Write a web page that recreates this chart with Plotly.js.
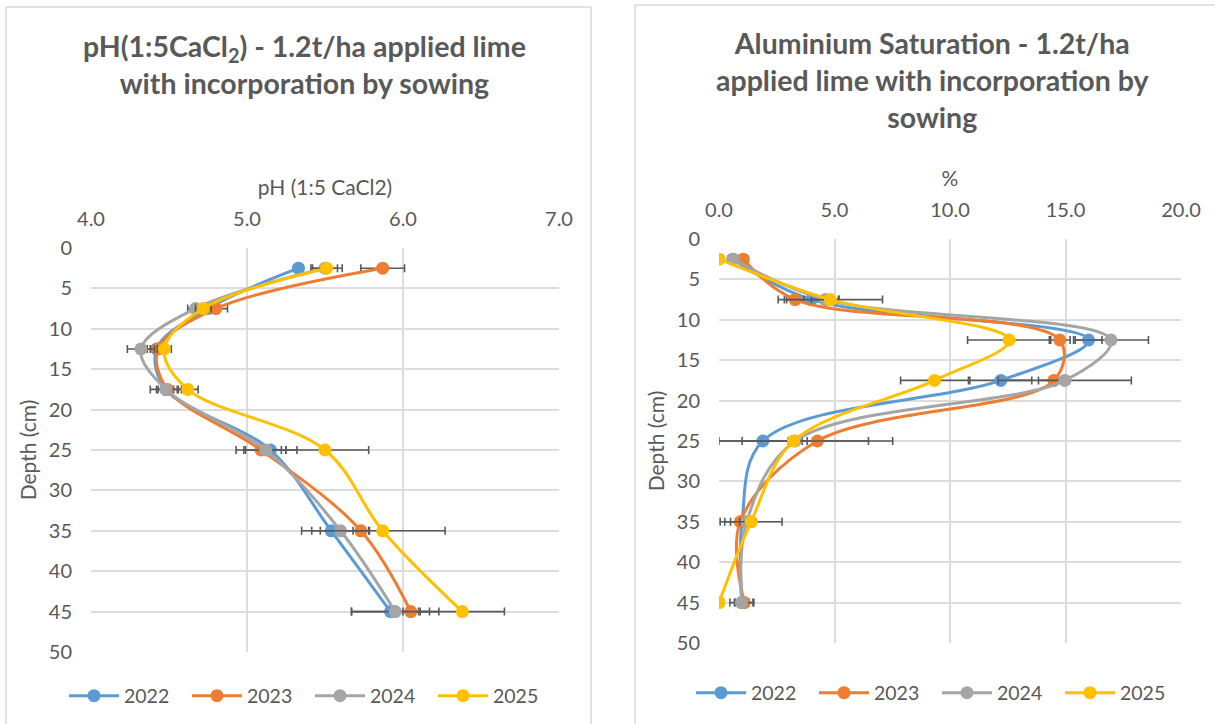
<!DOCTYPE html>
<html>
<head>
<meta charset="utf-8">
<script src="https://cdn.plot.ly/plotly-3.0.1.min.js"></script>
<style>html,body{margin:0;padding:0;background:#fff;}#chart{width:1215px;height:724px;}</style>
</head>
<body>
<div id="chart"></div>
<script>
// ---- data ----
const depths = [2.5, 7.5, 12.5, 17.5, 25, 35, 45];
const years = ['2022', '2023', '2024', '2025'];

// pH (1:5 CaCl2)
const ph2022 = [5.33, 4.75, 4.42, 4.48, 5.15, 5.54, 5.92];
const ph2023 = [5.87, 4.80, 4.43, 4.49, 5.09, 5.73, 6.05];
const ph2024 = [5.50, 4.67, 4.32, 4.48, 5.12, 5.60, 5.95];
const ph2025 = [5.51, 4.72, 4.47, 4.62, 5.50, 5.87, 6.38];
const phErr2022 = [0.03, 0.05, 0.06, 0.05, 0.17, 0.19, 0.25];
const phErr2023 = [0.14, 0.075, 0.05, 0.07, 0.16, 0.05, 0.05];
const phErr2024 = [0.08, 0.05, 0.087, 0.10, 0.13, 0.185, 0.28];
const phErr2025 = [0.10, 0.05, 0.045, 0.067, 0.28, 0.40, 0.27];

// Aluminium saturation (%)
const al2022 = [0.6, 4.0, 16.0, 12.2, 1.9, 1.0, 1.0];
const al2023 = [1.05, 3.3, 14.75, 14.5, 4.26, 0.92, 1.09];
const al2024 = [0.62, 4.6, 16.97, 14.97, 3.3, 1.2, 0.97];
const al2025 = [0.0, 4.82, 12.56, 9.33, 3.23, 1.39, 0.0];
const alErr2022 = [0.2, 1.17, 0.58, 1.34, 1.92, 0.5, 0.3];
const alErr2023 = [0.2, 0.37, 0.45, 0.67, 3.26, 0.67, 0.42];
const alErr2024 = [0.2, 0.6, 1.62, 2.88, 0.3, 0.3, 0.5];
const alErr2025 = [0.2, 2.26, 1.8, 1.47, 3.24, 1.34, 0.2];

// ---- styling ----
const colors = ['#5B9BD5', '#ED7D31', '#A5A5A5', '#FFC000'];
const FONT = 'Lato, "Open Sans", sans-serif';
const TXT = '#595959';
const GRID = '#DCDCDC';

const phSeries = [ph2022, ph2023, ph2024, ph2025];
const phErrs = [phErr2022, phErr2023, phErr2024, phErr2025];
const alSeries = [al2022, al2023, al2024, al2025];
const alErrs = [alErr2022, alErr2023, alErr2024, alErr2025];

const traces = [];
function mk(xs, errs, i, xa, ya, leg) {
  return {
    type: 'scatter', mode: 'lines+markers', name: years[i],
    x: xs, y: depths, xaxis: xa, yaxis: ya, legend: leg,
    line: {color: colors[i], width: 3, shape: 'spline', smoothing: 1},
    marker: {color: colors[i], size: 13},
    error_x: {type: 'data', array: errs, visible: true, color: '#595959', thickness: 1.6, width: 4}
  };
}
for (let i = 0; i < 4; i++) traces.push(mk(phSeries[i], phErrs[i], i, 'x', 'y', 'legend'));
for (let i = 0; i < 4; i++) traces.push(mk(alSeries[i], alErrs[i], i, 'x2', 'y2', 'legend2'));

const W = 1215, H = 724;
const px = v => v / W, py = v => 1 - v / H;

const axX = (dom, range, dtick, title) => ({
  domain: dom, range: range, dtick: dtick, tick0: range[0], side: 'top', tickformat: '.1f',
  showgrid: true, gridcolor: GRID, gridwidth: 2, zeroline: false,
  showline: false, ticks: '',
  tickfont: {family: FONT, size: 20, color: TXT},
  ticklabelstandoff: 17,
  title: {text: title, font: {family: FONT, size: 21, color: TXT}, standoff: 4},
  fixedrange: true
});
const axY = (dom) => ({
  domain: dom, range: [50, 0], dtick: 5, tick0: 0,
  showgrid: true, gridcolor: GRID, gridwidth: 2, zeroline: false,
  showline: false, ticks: '',
  tickfont: {family: FONT, size: 20, color: TXT},
  ticklabelstandoff: 18,
  title: {text: 'Depth (cm)', font: {family: FONT, size: 21, color: TXT}, standoff: 6},
  fixedrange: true
});

const legendBase = {orientation: 'h', xanchor: 'left', yanchor: 'middle',
  font: {family: FONT, size: 19.5, color: TXT}, entrywidth: 58, entrywidthmode: 'pixels', itemwidth: 50,
  bgcolor: 'rgba(0,0,0,0)'};

const layout = {
  width: W, height: H,
  margin: {l: 0, r: 0, t: 0, b: 0},
  paper_bgcolor: '#fff', plot_bgcolor: '#fff',
  font: {family: FONT, color: TXT},
  xaxis: Object.assign(axX([px(91), px(559)], [4, 7], 1, 'pH (1:5 CaCl2)'), {anchor: 'y'}),
  yaxis: Object.assign(axY([py(652), py(248)]), {anchor: 'x'}),
  xaxis2: Object.assign(axX([px(719), px(1181)], [0, 20], 5, '%'), {anchor: 'y2'}),
  yaxis2: Object.assign(axY([py(643), py(239)]), {anchor: 'x2'}),
  showlegend: true,
  legend: Object.assign({}, legendBase, {x: px(64), y: py(696)}),
  legend2: Object.assign({}, legendBase, {x: px(691), y: py(693)}),
  annotations: [
    {xref: 'paper', yref: 'paper', x: px(304), y: py(64), xanchor: 'center', yanchor: 'middle', showarrow: false,
      text: '<b>pH(1:5CaCl<sub>2</sub>) - 1.2t/ha applied lime<br>with incorporation by sowing</b>',
      font: {family: FONT, size: 28.5, color: TXT}, align: 'center'},
    {xref: 'paper', yref: 'paper', x: px(932), y: py(80), xanchor: 'center', yanchor: 'middle', showarrow: false,
      text: '<b>Aluminium Saturation - 1.2t/ha<br>applied lime with incorporation by<br>sowing</b>',
      font: {family: FONT, size: 28.5, color: TXT}, align: 'center'}
  ],
  shapes: [
    {type: 'rect', xref: 'paper', yref: 'paper', x0: px(6), x1: px(591), y0: py(730), y1: py(7),
      line: {color: '#D9D9D9', width: 1.5}, fillcolor: 'rgba(0,0,0,0)', layer: 'below'},
    {type: 'rect', xref: 'paper', yref: 'paper', x0: px(635), x1: px(1222), y0: py(730), y1: py(5),
      line: {color: '#D9D9D9', width: 1.5}, fillcolor: 'rgba(0,0,0,0)', layer: 'below'}
  ]
};

Plotly.newPlot('chart', traces, layout, {displayModeBar: false, staticPlot: true});
</script>
</body>
</html>
